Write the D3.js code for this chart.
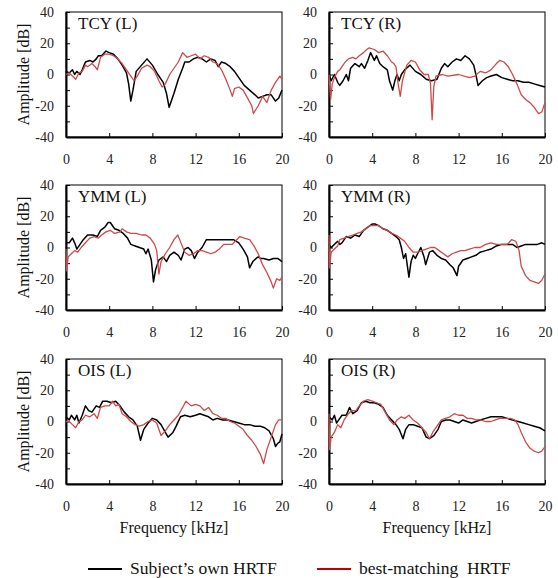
<!DOCTYPE html>
<html>
<head>
<meta charset="utf-8">
<script src="https://cdn.jsdelivr.net/npm/d3@7"></script>
<style>
  body { margin: 0; background: #fff; }
  svg { font-family: "Liberation Serif", "Times New Roman", serif; }
  .axis path, .axis line { stroke: #000; }
  .axis text { font-size: 14px; fill: #222; }
</style>
</head>
<body>
<svg id="myGraph" width="558" height="578"></svg>
<script>
// 周波数 [kHz], 振幅 [dB] の組
var tcyL_own = [[0,2],[0.3,1],[0.6,3],[0.8,0],[1,2],[1.3,0],[1.5,3],[1.8,8],[2.2,9],[2.5,8],[2.8,10],[3,12],[3.3,12],[3.7,15],[4,14],[4.4,13],[4.8,10],[5.2,6],[5.6,1],[5.8,-6],[6,-17],[6.2,-10],[6.5,2],[7,6],[7.5,10],[8,6],[8.5,0],[9,-5],[9.3,-12],[9.55,-21],[9.8,-16],[10,-12],[10.4,-3],[10.8,4],[11,8],[11.4,8],[11.8,10],[12.2,11],[12.6,10],[13,8],[13.4,10],[13.8,9],[14.1,5],[14.4,8],[14.8,7],[15.2,5],[15.6,2],[16,-2],[16.5,-7],[17,-10],[17.5,-13],[17.8,-15],[18.2,-14],[18.6,-13],[19,-13],[19.4,-17],[19.7,-15],[20,-10]];
var tcyL_best = [[0,0],[0.3,1],[0.6,-1],[0.9,-3],[1.2,1],[1.5,2],[1.8,6],[2,5],[2.4,7],[2.7,5],[2.9,3],[3.2,11],[3.6,13],[4,13],[4.4,12],[4.8,10],[5.2,7],[5.6,3],[6,-1],[6.3,-4],[6.6,-1],[7,4],[7.5,6],[7.8,5],[8.2,2],[8.6,-4],[8.9,-8],[9.2,-6],[9.6,0],[10,4],[10.4,8],[10.8,14],[11.2,11],[11.6,12],[12,13],[12.4,10],[12.8,12],[13.2,11],[13.6,8],[14,7],[14.4,3],[14.8,-3],[15.2,-10],[15.4,-14],[15.6,-9],[16,-8],[16.4,-10],[16.8,-15],[17.2,-20],[17.35,-25],[17.8,-20],[18.2,-14],[18.6,-18],[19,-10],[19.4,-5],[19.8,-1],[20,-3]];

var tcyR_own = [[0,0],[0.2,-4],[0.5,0],[0.8,-5],[1,-7],[1.3,-4],[1.6,0],[1.8,-4],[2,4],[2.4,7],[2.8,5],[3,7],[3.3,4],[3.6,9],[3.85,14],[4.2,9],[4.4,12],[4.7,7],[5,5],[5.4,3],[5.6,-4],[5.9,-10],[6.1,-4],[6.3,0],[6.5,-4],[6.7,0],[7,3],[7.5,6],[8,2],[8.5,0],[9,-3],[9.5,-4],[10,-3],[10.4,4],[10.7,7],[11,5],[11.4,8],[11.8,10],[12.2,9],[12.6,12],[13,10],[13.4,6],[13.6,0],[13.8,-7],[14.2,-4],[14.6,-2],[15,-1],[15.5,0],[16,-2],[16.5,-3],[17,-4],[17.5,-4],[18,-5],[18.5,-5],[19,-6],[19.5,-7],[20,-8]];
var tcyR_best = [[0,0],[0.15,-16],[0.3,-6],[0.5,-2],[0.8,2],[1,3],[1.2,5],[1.5,8],[1.8,10],[2.2,11],[2.5,10],[2.8,12],[3.2,14],[3.5,16],[3.7,17],[4.2,16],[4.6,14],[5,15],[5.4,12],[5.8,8],[6,7],[6.2,5],[6.4,-6],[6.6,-14],[6.8,-4],[7.2,6],[7.6,9],[8,8],[8.4,3],[8.8,0],[9.2,0],[9.4,-6],[9.55,-29],[9.7,-8],[9.9,-1],[10.5,0],[11,-1],[12,0],[13,-2],[13.5,-1],[14,2],[14.5,1],[15,3],[15.5,7],[15.8,9],[16.2,8],[16.6,5],[17,0],[17.4,-6],[17.8,-13],[18.2,-16],[18.6,-18],[19,-21],[19.4,-25],[19.7,-24],[20,-18]];

var ymmL_own = [[0,3],[0.3,3],[0.6,6],[0.8,3],[1,-1],[1.3,2],[1.6,5],[2,8],[2.5,8],[2.9,7],[3.2,11],[3.6,13],[3.9,16],[4.1,16],[4.5,12],[4.9,11],[5.3,9],[5.7,6],[6,2],[6.4,1],[6.8,0],[7.2,-1],[7.4,-4],[7.6,-1],[7.9,-8],[8.1,-22],[8.3,-14],[8.6,-8],[9,-6],[9.3,-9],[9.6,-5],[10,-3],[10.4,-5],[10.65,-8],[11,-1],[11.3,0],[11.6,-2],[11.9,-7],[12.2,-3],[12.6,0],[13,5],[13.5,5],[14,5],[14.5,5],[15,5],[15.5,5],[16,3],[16.4,-1],[16.8,-6],[17,-13],[17.3,-9],[17.6,-7],[17.8,-6],[18,-7],[18.3,-7],[18.8,-8],[19.2,-7],[19.6,-7],[20,-9]];
var ymmL_best = [[0,-1],[0.05,-15],[0.2,-6],[0.5,-4],[0.8,-2],[1.1,-3],[1.4,0],[1.8,3],[2.2,6],[2.6,7],[3,6],[3.3,8],[3.7,10],[4.1,11],[4.5,9],[5,10],[5.2,12],[5.6,10],[6,9],[6.5,9],[7,8],[7.4,8],[7.8,6],[8.2,2],[8.4,-2],[8.6,-17],[8.8,-9],[9.2,-4],[9.6,0],[10,5],[10.35,8],[10.7,2],[11,-3],[11.4,-5],[11.8,-4],[12.2,-2],[12.6,-2],[13,-3],[13.4,-4],[13.8,-3],[14.2,-1],[14.6,2],[15,2],[15.4,2],[15.8,5],[16.1,7],[16.5,6],[17,5],[17.4,1],[17.8,-4],[18.2,-11],[18.6,-16],[19,-22],[19.2,-26],[19.5,-20],[19.8,-21],[20,-19]];

var ymmR_own = [[0,2],[0.2,0],[0.5,2],[0.8,4],[1,2],[1.2,3],[1.6,7],[2,6],[2.4,8],[2.8,7],[3.2,11],[3.6,13],[4,15],[4.3,15],[4.6,14],[5,12],[5.4,11],[5.8,9],[6.2,7],[6.5,5],[6.7,0],[6.9,-7],[7.1,-4],[7.4,-19],[7.6,-9],[7.8,-5],[8,-7],[8.2,-4],[8.5,0],[8.8,-6],[8.95,-11],[9.3,-3],[9.6,-2],[10,-5],[10.4,-7],[10.8,-8],[11.2,-11],[11.5,-13],[11.85,-18],[12,-12],[12.4,-8],[12.8,-7],[13.2,-6],[13.6,-5],[14,-3],[14.5,-2],[15,-1],[15.5,1],[16,2],[16.5,2],[17,2],[17.4,0],[17.8,1],[18.2,2],[18.8,2],[19.3,2],[19.7,3],[20,2]];
var ymmR_best = [[0,8],[0.05,-13],[0.2,-3],[0.5,-1],[0.8,1],[1,5],[1.4,6],[1.8,7],[2.2,8],[2.6,9],[3,10],[3.4,12],[3.8,14],[4.2,14],[4.6,14],[5,12],[5.4,11],[5.8,9],[6.2,8],[6.6,6],[7,4],[7.4,0],[7.8,-3],[8.2,-3],[8.6,-2],[9,-1],[9.4,0],[9.8,0],[10.2,-2],[10.6,-4],[11,-6],[11.4,-4],[11.8,-3],[12.2,-2],[12.6,-2],[13,-1],[13.5,0],[14,0],[14.5,2],[15,3],[15.5,2],[16,2],[16.5,2],[16.9,5],[17.3,4],[17.6,-2],[17.8,-12],[18.2,-18],[18.6,-21],[19,-22],[19.4,-23],[19.7,-21],[20,-17]];

var oisL_own = [[0,3],[0.3,1],[0.5,4],[0.8,1],[1,4],[1.2,-1],[1.5,4],[1.8,10],[2.1,7],[2.4,6],[2.8,10],[3.1,9],[3.4,13],[3.8,13],[4.2,12],[4.6,13],[5,10],[5.4,6],[5.8,3],[6.2,1],[6.6,-3],[6.9,-12],[7.2,-5],[7.6,-1],[8,2],[8.4,1],[8.8,-2],[9.2,-7],[9.45,-10],[9.9,-7],[10.2,-3],[10.6,3],[11,4],[11.5,3],[12,4],[12.4,5],[12.8,4],[13.2,3],[13.6,1],[14,2],[14.5,1],[15,1],[15.5,0],[16,-1],[16.5,-2],[17,-2],[17.5,-3],[18,-3],[18.4,-4],[18.8,-6],[19.2,-11],[19.4,-16],[19.6,-14],[19.8,-13],[20,-8]];
var oisL_best = [[0,0],[0.3,0],[0.6,-2],[0.9,-4],[1.2,0],[1.5,1],[1.8,4],[2.2,3],[2.6,5],[2.9,2],[3.2,9],[3.6,10],[4,10],[4.3,13],[4.6,10],[4.9,11],[5.2,5],[5.6,3],[6,0],[6.4,-2],[6.8,-3],[7.2,-2],[7.6,0],[8,1],[8.4,-1],[8.8,-9],[9.2,-6],[9.6,-2],[10,1],[10.4,4],[10.8,9],[11.1,13],[11.6,10],[12,11],[12.4,10],[12.8,7],[13.2,9],[13.6,5],[14,4],[14.4,2],[14.8,2],[15.2,0],[15.6,-1],[16,-3],[16.4,-5],[16.8,-9],[17.2,-12],[17.6,-16],[18,-21],[18.3,-27],[18.6,-18],[19,-10],[19.4,-2],[19.7,1],[20,1]];

var oisR_own = [[0,3],[0.3,1],[0.5,4],[0.7,-1],[0.9,1],[1.2,4],[1.6,4],[1.9,9],[2.2,5],[2.6,7],[3,12],[3.4,13],[3.8,12],[4.2,12],[4.6,11],[5,9],[5.4,4],[5.8,1],[6.2,-2],[6.5,-5],[6.85,-11],[7.1,-5],[7.4,-2],[7.8,-2],[8.2,-3],[8.6,-4],[9,-10],[9.3,-11],[9.7,-9],[10.1,-5],[10.4,0],[10.8,1],[11.2,1],[11.6,0],[12,-1],[12.4,1],[12.8,0],[13.2,-1],[13.6,0],[14,1],[14.5,2],[15,3],[15.5,3],[16,3],[16.5,2],[17,1],[17.5,0],[18,-1],[18.5,-2],[19,-3],[19.5,-4],[20,-6]];
var oisR_best = [[0,5],[0.05,-18],[0.2,-10],[0.5,-7],[0.8,-2],[1.1,-4],[1.4,1],[1.8,5],[2.1,7],[2.5,7],[2.8,10],[3.2,13],[3.6,14],[4,13],[4.4,12],[4.8,11],[5.2,6],[5.6,1],[6,-2],[6.3,1],[6.7,3],[7,2],[7.4,4],[7.8,1],[8.2,-1],[8.6,-4],[9,-7],[9.3,-11],[9.6,-7],[10,-3],[10.4,1],[10.8,2],[11.2,3],[11.6,5],[12,4],[12.4,4],[12.8,2],[13.2,2],[13.6,1],[14,1],[14.5,0],[15,0],[15.4,1],[15.8,2],[16.3,2],[16.8,2],[17.2,1],[17.5,-2],[17.8,-7],[18.2,-13],[18.6,-17],[19,-19],[19.4,-20],[19.7,-19],[20,-16]];

var panelTitles = ["TCY (L)", "TCY (R)", "YMM (L)", "YMM (R)", "OIS (L)", "OIS (R)"];
var ownSeries = [tcyL_own, tcyR_own, ymmL_own, ymmR_own, oisL_own, oisR_own];
var bestSeries = [tcyL_best, tcyR_best, ymmL_best, ymmR_best, oisL_best, oisR_best];
var xTicks = [0, 4, 8, 12, 16, 20];
var yTicks = [-40, -30, -20, -10, 0, 10, 20, 30, 40];
var legendLabels = ["Subject\u2019s own HRTF", "best-matching\u00a0\u00a0HRTF"];

var svg = d3.select("#myGraph");

var colLeft = [66, 329];
var rowTop = [12, 185, 359];
var plotW = 216;
var plotH = 125;
var ownColor = "#000000";
var bestColor = "#cc4a4a";

var xScale = d3.scaleLinear().domain([0, 20]).range([0, plotW]);
var yScale = d3.scaleLinear().domain([-40, 40]).range([plotH, 0]);

var line = d3.line()
    .x(function(d){ return xScale(d[0]); })
    .y(function(d){ return yScale(d[1]); });

for (var i = 0; i < 6; i++){
    var col = i % 2;
    var row = Math.floor(i / 2);
    var g = svg.append("g")
        .attr("transform", "translate(" + colLeft[col] + "," + rowTop[row] + ")");

    // 枠
    g.append("rect")
        .attr("width", plotW).attr("height", plotH)
        .attr("fill", "none").attr("stroke", "#000").attr("stroke-width", 1);

    // 縦軸
    g.append("g")
        .attr("class", "axis")
        .call(d3.axisLeft(yScale)
            .tickValues(yTicks)
            .tickSizeInner(-4).tickSizeOuter(0)
            .tickPadding(12)
            .tickFormat(function(d){ return d % 20 === 0 ? String(d) : ""; }))
        .attr("font-family", null).attr("font-size", null)
        .call(function(a){ a.select(".domain").attr("stroke-width", 2); });

    // 横軸
    g.append("g")
        .attr("class", "axis")
        .attr("transform", "translate(0," + plotH + ")")
        .call(d3.axisBottom(xScale)
            .tickValues(xTicks)
            .tickSizeInner(-4).tickSizeOuter(0)
            .tickPadding(17)
            .tickFormat(function(d){ return String(d); }))
        .attr("font-family", null).attr("font-size", null)
        .call(function(a){ a.select(".domain").attr("stroke-width", 2); });

    // 折れ線
    g.append("path")
        .attr("d", line(ownSeries[i]))
        .attr("fill", "none").attr("stroke", ownColor)
        .attr("stroke-width", 1.5).attr("stroke-linejoin", "round");
    g.append("path")
        .attr("d", line(bestSeries[i]))
        .attr("fill", "none").attr("stroke", bestColor)
        .attr("stroke-width", 1.3).attr("stroke-linejoin", "round");

    g.append("text")
        .attr("x", 12).attr("y", 17)
        .attr("font-size", 17)
        .attr("fill", "#111")
        .text(panelTitles[i]);

    if (col === 0){
        g.append("text")
            .attr("transform", "translate(" + (-43) + "," + (plotH / 2) + ") rotate(-90)")
            .attr("text-anchor", "middle")
            .attr("dy", "0.35em")
            .attr("font-size", 16)
            .attr("fill", "#111")
            .text("Amplitude [dB]");
    }
    if (row === 2){
        g.append("text")
            .attr("x", plotW / 2).attr("y", plotH + 49)
            .attr("text-anchor", "middle")
            .attr("font-size", 16)
            .attr("fill", "#111")
            .text("Frequency [kHz]");
    }
}

// 凡例
var legend = svg.append("g");
var legendX = [88, 317];
var legendColors = ["#000000", "#c00000"];
legendLabels.forEach(function(label, k){
    legend.append("line")
        .attr("x1", legendX[k]).attr("x2", legendX[k] + 34)
        .attr("y1", 569).attr("y2", 569)
        .attr("stroke", legendColors[k]).attr("stroke-width", 2);
    legend.append("text")
        .attr("x", legendX[k] + 42).attr("y", 574)
        .attr("font-size", 17.5)
        .attr("fill", "#111")
        .text(label);
});
</script>
</body>
</html>
